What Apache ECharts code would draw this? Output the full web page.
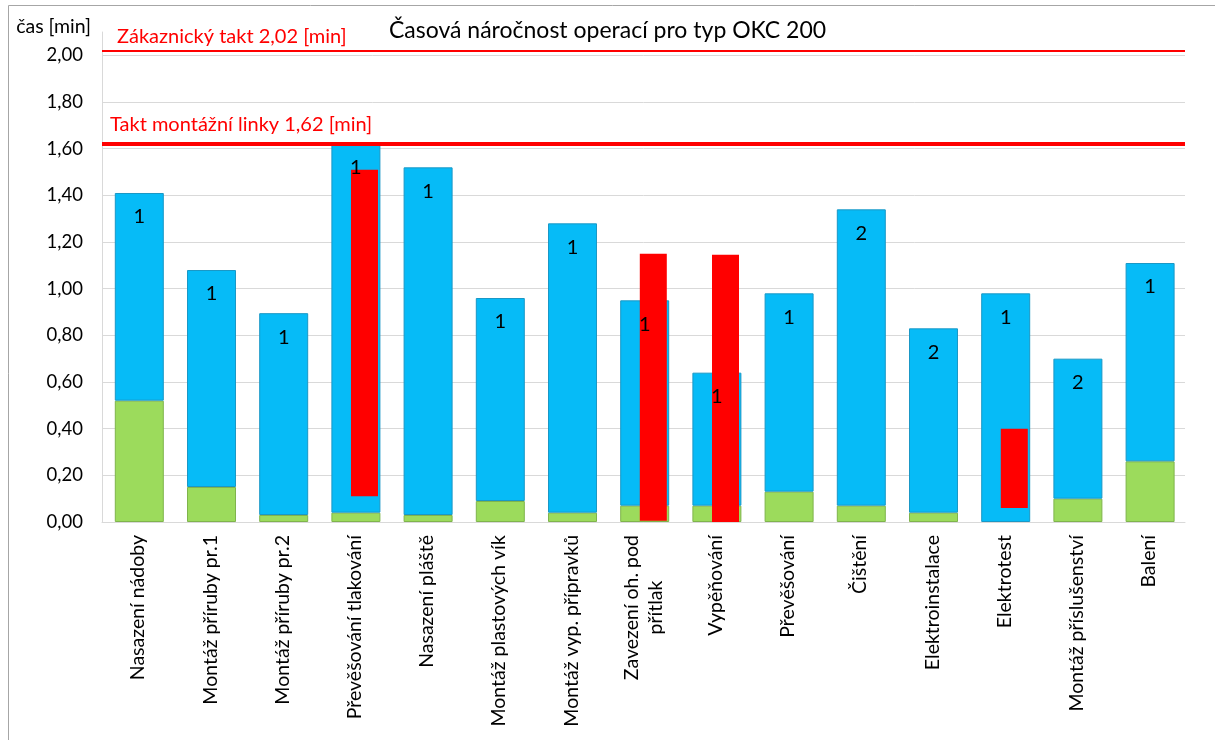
<!DOCTYPE html>
<html lang="cs">
<head>
    <meta charset="UTF-8">
    <title>Časová náročnost operací</title>
    <script src="https://cdn.jsdelivr.net/npm/echarts@6/dist/echarts.min.js"></script>
    <style>
        html, body { margin: 0; padding: 0; background: #fff; }
    </style>
</head>
<body>

<div id="main" style="width: 1215px; height: 740px;"></div>
<script>
    // operace na lince
    var categories = ['Nasazení nádoby', 'Montáž příruby pr.1', 'Montáž příruby pr.2', 'Převěšování tlakování',
        'Nasazení pláště', 'Montáž plastových vík', 'Montáž vyp. přípravků', 'Zavezení oh. pod\npřítlak',
        'Vypěňování', 'Převěšování', 'Čištění', 'Elektroinstalace', 'Elektrotest', 'Montáž příslušenství', 'Balení'];
    // spodní (zelená) a horní (modrá) část sloupce [min]
    var greenPart = [0.52, 0.15, 0.03, 0.04, 0.03, 0.09, 0.04, 0.07, 0.07, 0.13, 0.07, 0.04, 0, 0.10, 0.26];
    var bluePart = [0.89, 0.93, 0.865, 1.58, 1.49, 0.87, 1.24, 0.88, 0.57, 0.85, 1.27, 0.79, 0.98, 0.60, 0.85];
    // počet pracovníků
    var workers = [1, 1, 1, 1, 1, 1, 1, 1, 1, 1, 2, 2, 1, 2, 1];
    // červené úseky - od / do [min]
    var redFrom = [null, null, null, 0.11, null, null, null, 0.005, 0, null, null, null, 0.06, null, null];
    var redTo = [null, null, null, 1.51, null, null, null, 1.15, 1.145, null, null, null, 0.40, null, null];
    var yTicks = [0, 0.2, 0.4, 0.6, 0.8, 1.0, 1.2, 1.4, 1.6, 1.8, 2.0];
    var customerTakt = 2.02;
    var lineTakt = 1.62;

    var redHeight = redTo.map(function (v, i) {
        return v === null ? null : +(v - redFrom[i]).toFixed(3);
    });
    // nulový úsek nekreslit
    var greenShown = greenPart.map(function (v) { return v === 0 ? '-' : v; });

    var FONT = 'Lato';
    var mychart = echarts.init(document.getElementById('main'));

    mychart.setOption({
        animation: false,
        textStyle: { fontFamily: FONT },
        title: {
            text: 'Časová náročnost operací pro typ OKC 200',
            left: 'center',
            top: 14,
            textStyle: { fontFamily: FONT, fontSize: 23, fontWeight: 'normal', color: '#000' }
        },
        graphic: [{
            type: 'rect',
            shape: { x: 8.5, y: 5.5, width: 1300, height: 800 },
            style: { fill: 'none', stroke: '#a6a6a6', lineWidth: 1 },
            silent: true
        }],
        grid: { left: 102, right: 30, top: 32, bottom: 218 },
        xAxis: {
            type: 'category',
            data: categories,
            axisLine: { lineStyle: { color: '#d9d9d9' } },
            axisTick: { show: false },
            axisLabel: {
                interval: 0,
                rotate: 90,
                margin: 13,
                color: '#000',
                fontSize: 19.5,
                formatter: function (v) {
                    return v.split('\n').map(function (s) { return '{c|' + s + '}'; }).join('\n');
                },
                rich: { c: { align: 'center', fontSize: 19.5, fontFamily: FONT, color: '#000', lineHeight: 24 } }
            }
        },
        yAxis: {
            type: 'value',
            min: 0,
            max: 2.1,
            interval: 0.2,
            name: 'čas [min]',
            nameLocation: 'end',
            nameGap: 5,
            nameTextStyle: { align: 'right', verticalAlign: 'middle', fontSize: 19.5, color: '#000', padding: [0, 11, 0, 0] },
            axisLine: { show: true, lineStyle: { color: '#d9d9d9' } },
            axisTick: { show: false },
            splitLine: { show: true, showMaxLine: false, lineStyle: { color: '#d9d9d9' } },
            axisLabel: {
                margin: 19,
                color: '#000',
                fontSize: 18.5,
                formatter: function (v) {
                    if (v > yTicks[yTicks.length - 1] + 1e-9) return '';
                    return v.toFixed(2).replace('.', ',');
                }
            }
        },
        series: [
            {
                name: 'zelená',
                type: 'bar',
                stack: 'main',
                barWidth: 49,
                barGap: '-60%',
                data: greenShown,
                itemStyle: { color: '#9cdb5c', borderColor: '#7fb44c', borderWidth: 1 },
                markLine: {
                    silent: true,
                    symbol: 'none',
                    z: 5,
                    data: [
                        {
                            yAxis: customerTakt,
                            lineStyle: { color: '#ff0000', width: 2, type: 'solid' },
                            label: {
                                position: 'insideStartTop',
                                distance: [15, 4],
                                formatter: 'Zákaznický takt 2,02 [min]',
                                color: '#ff0000',
                                fontSize: 20,
                                fontFamily: FONT
                            }
                        },
                        {
                            yAxis: lineTakt,
                            lineStyle: { color: '#ff0000', width: 4, type: 'solid' },
                            label: {
                                position: 'insideStartTop',
                                distance: [8, 9],
                                formatter: 'Takt montážní linky 1,62 [min]',
                                color: '#ff0000',
                                fontSize: 20,
                                fontFamily: FONT
                            }
                        }
                    ]
                }
            },
            {
                name: 'modrá',
                type: 'bar',
                stack: 'main',
                barWidth: 49,
                data: bluePart,
                itemStyle: { color: '#06bbf7', borderColor: '#1a98c6', borderWidth: 1 },
                label: {
                    show: true,
                    position: 'insideTop',
                    distance: 14,
                    color: '#000',
                    fontSize: 20,
                    fontFamily: FONT,
                    formatter: function (p) { return workers[p.dataIndex]; }
                }
            },
            {
                name: 'základ',
                type: 'bar',
                stack: 'red',
                barWidth: 27,
                silent: true,
                data: redFrom,
                itemStyle: { color: 'rgba(0,0,0,0)' }
            },
            {
                name: 'červená',
                type: 'bar',
                stack: 'red',
                barWidth: 27,
                data: redHeight,
                itemStyle: { color: '#ff0000' }
            }
        ]
    });
</script>

</body>
</html>
